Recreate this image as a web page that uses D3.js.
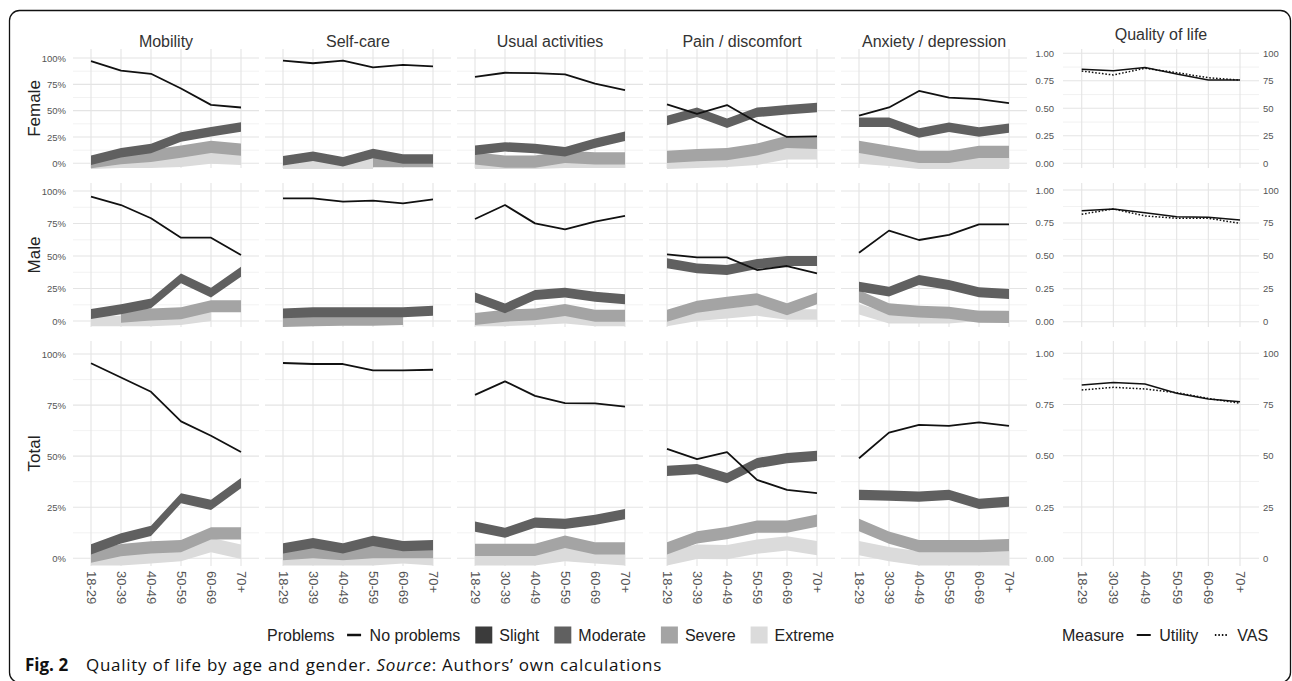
<!DOCTYPE html>
<html>
<head>
<meta charset="utf-8">
<script src="https://cdn.jsdelivr.net/npm/d3@7"></script>
<style>
  body { margin: 0; background: #fff; }
  svg { display: block; }
  text { font-family: "Liberation Sans", Arial, sans-serif; }
</style>
</head>
<body>
<svg id="fig" width="1292" height="681"></svg>
<script>
// ---------- categories and tick labels ----------
const ages = ["18-29", "30-39", "40-49", "50-59", "60-69", "70+"];
const dimensions = ["Mobility", "Self-care", "Usual activities", "Pain / discomfort", "Anxiety / depression"];
const groups = ["Female", "Male", "Total"];
const problemLevels = ["No problems", "Slight", "Moderate", "Severe", "Extreme"];
const measures = ["Utility", "VAS"];
const pctTicks = [0, 0.25, 0.5, 0.75, 1];
const pctMinorTicks = [0.125, 0.375, 0.625, 0.875];
const utilityTicks = [0, 0.25, 0.5, 0.75, 1];
const vasTicks = [0, 25, 50, 75, 100];

// ---------- shares by age group ----------
// rows: no problems, moderate, severe, extreme (null = not reported)
const femaleMobility = [
  [0.97, 0.88, 0.85, 0.71, 0.555, 0.53],
  [0.03, 0.10, 0.14, 0.25, 0.30, 0.345],
  [0.01, 0.05, 0.07, 0.11, 0.155, 0.13],
  [0.0, 0.01, 0.01, 0.02, 0.05, 0.04]
];
const femaleSelfCare = [
  [0.975, 0.95, 0.975, 0.91, 0.935, 0.92],
  [0.025, 0.068, 0.015, 0.094, 0.04, 0.04],
  [null, null, null, 0.02, 0.02, 0.02],
  [0.0, 0.0, 0.0, 0.0, null, null]
];
const femaleUsual = [
  [0.82, 0.86, 0.856, 0.844, 0.756, 0.694],
  [0.125, 0.156, 0.14, 0.109, 0.19, 0.256],
  [0.047, 0.015, 0.015, 0.062, 0.047, 0.047],
  [0.0, 0.0, 0.0, 0.01, 0.01, 0.01]
];
const femalePain = [
  [0.559, 0.469, 0.553, 0.39, 0.25, 0.256],
  [0.406, 0.484, 0.381, 0.484, 0.509, 0.53],
  [0.062, 0.078, 0.087, 0.131, 0.203, 0.194],
  [0.0, 0.01, 0.02, 0.04, 0.09, 0.09]
];
const femaleAnxiety = [
  [0.452, 0.53, 0.687, 0.624, 0.609, 0.572],
  [0.39, 0.39, 0.287, 0.343, 0.297, 0.334],
  [0.156, 0.109, 0.062, 0.062, 0.109, 0.109],
  [0.05, 0.03, 0.0, 0.0, 0.0, 0.0]
];

const maleMobility = [
  [0.956, 0.892, 0.79, 0.641, 0.641, 0.508],
  [0.054, 0.09, 0.136, 0.328, 0.218, 0.379],
  [null, 0.033, 0.05, 0.059, 0.113, 0.113],
  [0.0, 0.0, 0.0, 0.01, 0.04, null]
];
const maleSelfCare = [
  [0.944, 0.944, 0.918, 0.926, 0.905, 0.936],
  [0.059, 0.067, 0.067, 0.067, 0.067, 0.079],
  [0.0, 0.005, 0.01, 0.01, 0.015, null],
  [null, null, null, null, null, null]
];
const maleUsual = [
  [0.785, 0.892, 0.751, 0.705, 0.764, 0.808],
  [0.182, 0.097, 0.2, 0.218, 0.187, 0.167],
  [0.015, 0.041, 0.051, 0.085, 0.041, 0.041],
  [0.0, 0.0, 0.01, 0.02, 0.0, 0.0]
];
const malePain = [
  [0.513, 0.49, 0.49, 0.392, 0.423, 0.367],
  [0.444, 0.405, 0.392, 0.438, 0.462, 0.462],
  [0.041, 0.11, 0.141, 0.167, 0.09, 0.174],
  [0.0, 0.04, 0.06, 0.08, 0.05, 0.05]
];
const maleAnxiety = [
  [0.525, 0.695, 0.623, 0.662, 0.744, 0.744],
  [0.264, 0.226, 0.315, 0.277, 0.221, 0.208],
  [0.19, 0.09, 0.072, 0.064, 0.033, 0.03],
  [0.09, 0.02, 0.02, 0.02, 0.04, 0.04]
];

const totalMobility = [
  [0.955, 0.885, 0.815, 0.67, 0.6, 0.52],
  [0.044, 0.098, 0.134, 0.294, 0.261, 0.368],
  [0.008, 0.04, 0.054, 0.06, 0.122, 0.122],
  [0.0, 0.0, 0.01, 0.02, 0.065, 0.032]
];
const totalSelfCare = [
  [0.956, 0.951, 0.951, 0.92, 0.92, 0.923],
  [0.049, 0.074, 0.049, 0.085, 0.06, 0.065],
  [0.02, 0.03, 0.02, 0.03, 0.03, 0.03],
  [0.0, 0.0, 0.0, 0.0, 0.01, 0.0]
];
const totalUsual = [
  [0.80, 0.866, 0.795, 0.76, 0.758, 0.742],
  [0.155, 0.125, 0.175, 0.168, 0.188, 0.216],
  [0.041, 0.041, 0.041, 0.081, 0.049, 0.049],
  [0.0, 0.0, 0.0, 0.02, 0.01, 0.0]
];
const totalPain = [
  [0.536, 0.485, 0.52, 0.384, 0.335, 0.319],
  [0.428, 0.436, 0.392, 0.466, 0.49, 0.501],
  [0.049, 0.103, 0.123, 0.155, 0.155, 0.184],
  [0.0, 0.032, 0.03, 0.057, 0.073, 0.05]
];
const totalAnxiety = [
  [0.49, 0.615, 0.653, 0.648, 0.665, 0.648],
  [0.31, 0.307, 0.302, 0.31, 0.266, 0.277],
  [0.163, 0.101, 0.06, 0.06, 0.06, 0.064],
  [0.05, 0.02, 0.0, 0.0, 0.0, 0.0]
];

// half-width of the confidence band: moderate, severe, extreme
const bandFemale = [0.045, 0.058, 0.055];
const bandMale = [0.038, 0.046, 0.04];
const bandTotal = [0.025, 0.03, 0.035];

// quality of life: utility index (0-1) and VAS (0-100)
const utilityFemale = [0.855, 0.842, 0.87, 0.812, 0.757, 0.757];
const vasFemale = [83.9, 80.3, 86.4, 82.4, 77.8, 75.7];
const utilityMale = [0.843, 0.856, 0.828, 0.797, 0.793, 0.772];
const vasMale = [81.6, 85.6, 80.3, 78.5, 78.5, 74.7];
const utilityTotal = [0.845, 0.857, 0.85, 0.805, 0.777, 0.764];
const vasTotal = [82.1, 83.4, 82.6, 80.8, 78.0, 75.6];

// ---------- lookups built from the arrays ----------
const shareTables = {
  Female: [femaleMobility, femaleSelfCare, femaleUsual, femalePain, femaleAnxiety],
  Male: [maleMobility, maleSelfCare, maleUsual, malePain, maleAnxiety],
  Total: [totalMobility, totalSelfCare, totalUsual, totalPain, totalAnxiety]
};
const bandWidths = { Female: bandFemale, Male: bandMale, Total: bandTotal };
const qolSeries = {
  Female: [utilityFemale, vasFemale],
  Male: [utilityMale, vasMale],
  Total: [utilityTotal, vasTotal]
};

// ---------- styling ----------
const levelColor = {
  "No problems": "#111111",
  "Slight": "#3b3b3b",
  "Moderate": "#606060",
  "Severe": "#a4a4a4",
  "Extreme": "#dbdbdb"
};
const gridMajor = "#e4e4e4";
const gridMinor = "#f0f0f0";
const tickColor = "#555555";

// ---------- layout ----------
const firstTick = 91, colStep = 192, tickSpan = 150, panelPad = 18;
const qolRange = [1081.7, 1240], qolPanel = [1063, 1259];
const rowLayout = [
  { top: 49, bottom: 168, y0: 163.3, y1: 58, q0: 163.3, q1: 53.3 },
  { top: 183, bottom: 327, y0: 321, y1: 191, q0: 321.7, q1: 190 },
  { top: 341, bottom: 566, y0: 558.3, y1: 354, q0: 558.3, q1: 353.3 }
];

const svg = d3.select("#fig");

// figure frame
svg.append("rect")
  .attr("x", 9.5).attr("y", 10.5)
  .attr("width", 1281).attr("height", 672)
  .attr("rx", 10).attr("ry", 10)
  .attr("fill", "none").attr("stroke", "#111").attr("stroke-width", 1.3);

function drawGrid(g, x, y, left, right, top, bottom, major, minor) {
  g.selectAll(".gmin").data(minor.filter(t => y(t) >= top && y(t) <= bottom)).join("line")
    .attr("x1", left).attr("x2", right)
    .attr("y1", d => y(d)).attr("y2", d => y(d))
    .attr("stroke", gridMinor).attr("stroke-width", 0.9);
  g.selectAll(".gmaj").data(major).join("line")
    .attr("x1", left).attr("x2", right)
    .attr("y1", d => y(d)).attr("y2", d => y(d))
    .attr("stroke", gridMajor).attr("stroke-width", 1.1);
  g.selectAll(".gv").data(ages).join("line")
    .attr("x1", d => x(d)).attr("x2", d => x(d))
    .attr("y1", top).attr("y2", bottom)
    .attr("stroke", gridMajor).attr("stroke-width", 1.1);
}

function bottomAxis(x, yPos) {
  const ax = svg.append("g")
    .attr("transform", `translate(0,${yPos})`)
    .call(d3.axisBottom(x).tickSize(0).tickPadding(0));
  ax.select(".domain").remove();
  ax.selectAll("text")
    .attr("transform", "rotate(90)")
    .attr("x", 0).attr("y", 0).attr("dy", "0.35em")
    .attr("text-anchor", "start")
    .attr("fill", tickColor)
    .style("font-size", "13px")
    .style("font-family", "'Liberation Sans', Arial, sans-serif");
}

groups.forEach((grp, r) => {
  const L = rowLayout[r];
  const y = d3.scaleLinear().domain([0, 1]).range([L.y0, L.y1]);
  const hw = bandWidths[grp];

  // row label
  svg.append("text")
    .attr("transform", `translate(40,${(L.top + L.bottom) / 2}) rotate(-90)`)
    .attr("text-anchor", "middle")
    .attr("fill", "#222")
    .style("font-size", "17px")
    .text(grp);

  dimensions.forEach((dim, c) => {
    const t0 = firstTick + colStep * c;
    const x = d3.scalePoint().domain(ages).range([t0, t0 + tickSpan]);
    const left = t0 - panelPad, right = t0 + tickSpan + panelPad;
    const g = svg.append("g");
    drawGrid(g, x, y, left, right, L.top, L.bottom, pctTicks, pctMinorTicks);

    const table = shareTables[grp][c];
    // bands drawn from the lightest level up, so darker levels sit on top
    [3, 2, 1].forEach(k => {
      const level = problemLevels[k + 1];
      const h = hw[k - 1];
      const pts = ages.map((a, i) => ({ a, v: table[k][i] }));
      const area = d3.area()
        .defined(d => d.v != null)
        .x(d => x(d.a))
        .y0(d => y(d.v - h))
        .y1(d => y(d.v + h));
      g.append("path").attr("d", area(pts)).attr("fill", levelColor[level]);
    });
    const line = d3.line().x(d => x(d.a)).y(d => y(d.v));
    g.append("path")
      .attr("d", line(ages.map((a, i) => ({ a, v: table[0][i] }))))
      .attr("fill", "none").attr("stroke", levelColor["No problems"])
      .attr("stroke-width", 1.8).attr("stroke-linejoin", "round");

    if (r === 0) {
      svg.append("text")
        .attr("x", (left + right) / 2).attr("y", 46.5)
        .attr("text-anchor", "middle").attr("fill", "#333")
        .style("font-size", "16px").text(dim);
    }
    if (c === 0) {
      const ax = svg.append("g").attr("transform", `translate(66,0)`)
        .call(d3.axisLeft(y).tickValues(pctTicks).tickFormat(d3.format(".0%")).tickSize(0).tickPadding(0));
      ax.select(".domain").remove();
      ax.selectAll("text").attr("fill", tickColor).style("font-size", "9.5px")
        .style("font-family", "'Liberation Sans', Arial, sans-serif");
    }
    if (r === groups.length - 1) bottomAxis(x, 571);
  });

  // quality of life panel with utility (left axis) and VAS (right axis)
  const xq = d3.scalePoint().domain(ages).range(qolRange);
  const yq = d3.scaleLinear().domain([0, 1]).range([L.q0, L.q1]);
  const yv = d3.scaleLinear().domain([0, 100]).range([L.q0, L.q1]);
  const gq = svg.append("g");
  drawGrid(gq, xq, yq, qolPanel[0], qolPanel[1], L.top, L.bottom, utilityTicks, pctMinorTicks);
  const [util, vas] = qolSeries[grp];
  gq.append("path")
    .attr("d", d3.line().x((d, i) => xq(ages[i])).y(d => yq(d))(util))
    .attr("fill", "none").attr("stroke", "#111").attr("stroke-width", 1.5);
  gq.append("path")
    .attr("d", d3.line().x((d, i) => xq(ages[i])).y(d => yv(d))(vas))
    .attr("fill", "none").attr("stroke", "#111").attr("stroke-width", 1.5)
    .attr("stroke-dasharray", "1.6,1.8");

  const axL = svg.append("g").attr("transform", "translate(1054,0)")
    .call(d3.axisLeft(yq).tickValues(utilityTicks).tickFormat(d3.format(".2f")).tickSize(0).tickPadding(0));
  axL.select(".domain").remove();
  axL.selectAll("text").attr("fill", tickColor).style("font-size", "9.5px")
    .style("font-family", "'Liberation Sans', Arial, sans-serif");
  const axR = svg.append("g").attr("transform", "translate(1263,0)")
    .call(d3.axisRight(yv).tickValues(vasTicks).tickFormat(d3.format("d")).tickSize(0).tickPadding(0));
  axR.select(".domain").remove();
  axR.selectAll("text").attr("fill", tickColor).style("font-size", "9.5px")
    .style("font-family", "'Liberation Sans', Arial, sans-serif");

  if (r === 0) {
    svg.append("text")
      .attr("x", (qolPanel[0] + qolPanel[1]) / 2).attr("y", 40)
      .attr("text-anchor", "middle").attr("fill", "#333")
      .style("font-size", "16px").text("Quality of life");
  }
  if (r === groups.length - 1) bottomAxis(xq, 571);
});

// ---------- legends ----------
const keySize = 17;
function legend(startX, cy, title, items) {
  const g = svg.append("g");
  let cx = startX;
  const t = g.append("text").attr("x", cx).attr("y", cy).attr("dy", "0.36em")
    .attr("fill", "#222").style("font-size", "16px").text(title);
  cx += t.node().getComputedTextLength() + 11;
  items.forEach(it => {
    if (it.kind === "rect") {
      g.append("rect").attr("x", cx).attr("y", cy - keySize / 2)
        .attr("width", keySize).attr("height", keySize).attr("fill", it.color);
    } else {
      g.append("line").attr("x1", cx + 1.5).attr("x2", cx + keySize - 1.5)
        .attr("y1", cy).attr("y2", cy)
        .attr("stroke", "#111").attr("stroke-width", it.width || 2)
        .attr("stroke-dasharray", it.dash || null);
    }
    cx += keySize + 7;
    const lt = g.append("text").attr("x", cx).attr("y", cy).attr("dy", "0.36em")
      .attr("fill", "#222").style("font-size", "16px").text(it.label);
    cx += lt.node().getComputedTextLength() + 15;
  });
}
legend(267, 635, "Problems", problemLevels.map((lv, i) => i === 0
  ? { kind: "line", label: lv, width: 2.5 }
  : { kind: "rect", label: lv, color: levelColor[lv] }));
legend(1062, 635, "Measure", [
  { kind: "line", label: measures[0], width: 2 },
  { kind: "line", label: measures[1], width: 2, dash: "1.5,2" }
]);

// ---------- caption ----------
const capFont = "'Open Sans', 'Liberation Sans', Arial, sans-serif";
svg.append("text").attr("x", 25).attr("y", 671)
  .attr("fill", "#111").style("font-family", capFont)
  .style("font-size", "17px").style("font-weight", "700").text("Fig. 2");
const cap = svg.append("text").attr("x", 86).attr("y", 671)
  .attr("fill", "#111").style("font-family", capFont).style("font-size", "17px");
cap.append("tspan").text("Quality of life by age and gender. ");
cap.append("tspan").style("font-style", "italic").text("Source");
cap.append("tspan").text(": Authors\u2019 own calculations");
const natural = cap.node().getComputedTextLength();
const nChars = cap.text().length;
cap.style("letter-spacing", ((576 - natural) / nChars).toFixed(3) + "px");
</script>
</body>
</html>
